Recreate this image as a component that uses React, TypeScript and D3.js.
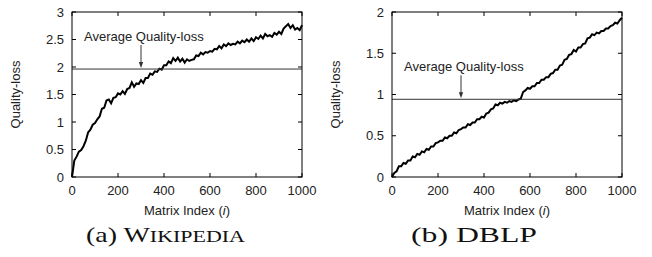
import React from "react";
import * as d3 from "d3";

const indexStep = 10;
const wikipediaLoss = [
  0, 0.30, 0.37, 0.46, 0.49, 0.56, 0.66, 0.81, 0.86, 0.95,
  0.98, 1.05, 1.10, 1.24, 1.26, 1.39, 1.41, 1.34, 1.44, 1.45,
  1.52, 1.50, 1.56, 1.51, 1.60, 1.62, 1.72, 1.64, 1.70, 1.69,
  1.76, 1.71, 1.80, 1.80, 1.88, 1.86, 1.92, 1.91, 1.97, 1.95,
  2.03, 2.03, 2.10, 2.07, 2.16, 2.11, 2.17, 2.10, 2.15, 2.08,
  2.14, 2.11, 2.13, 2.14, 2.21, 2.20, 2.26, 2.23, 2.27, 2.26,
  2.29, 2.28, 2.33, 2.32, 2.38, 2.34, 2.41, 2.38, 2.43, 2.40,
  2.42, 2.41, 2.46, 2.43, 2.48, 2.45, 2.50, 2.46, 2.52, 2.47,
  2.54, 2.51, 2.57, 2.52, 2.60, 2.56, 2.58, 2.55, 2.62, 2.59,
  2.64, 2.60, 2.70, 2.74, 2.78, 2.71, 2.76, 2.68, 2.71, 2.67,
  2.76,
];
const dblpLoss = [
  0, 0.05, 0.07, 0.13, 0.13, 0.17, 0.16, 0.20, 0.20, 0.25,
  0.24, 0.28, 0.27, 0.31, 0.30, 0.34, 0.33, 0.37, 0.37, 0.41,
  0.42, 0.44, 0.44, 0.48, 0.47, 0.50, 0.50, 0.54, 0.53, 0.57,
  0.58, 0.60, 0.60, 0.64, 0.63, 0.66, 0.66, 0.70, 0.70, 0.73,
  0.72, 0.77, 0.78, 0.82, 0.83, 0.88, 0.87, 0.90, 0.89, 0.91,
  0.90, 0.92, 0.91, 0.93, 0.92, 0.94, 0.95, 1.03, 1.05, 1.08,
  1.07, 1.10, 1.10, 1.14, 1.14, 1.18, 1.18, 1.21, 1.21, 1.25,
  1.26, 1.30, 1.30, 1.35, 1.36, 1.42, 1.43, 1.48, 1.49, 1.54,
  1.52, 1.57, 1.57, 1.61, 1.62, 1.68, 1.69, 1.73, 1.72, 1.75,
  1.74, 1.77, 1.77, 1.80, 1.80, 1.83, 1.84, 1.87, 1.86, 1.90,
  1.93,
];
const xTicks = [0, 200, 400, 600, 800, 1000];
const wikiYTicks = [0, 0.5, 1, 1.5, 2, 2.5, 3];
const dblpYTicks = [0, 0.5, 1, 1.5, 2];
const wikiAverage = 1.963;
const dblpAverage = 0.942;
const annotationIndex = 300;
const annotationText = "Average Quality-loss";
const yTitle = "Quality-loss";

type PlotProps = {
  left: number;
  data: number[];
  yMax: number;
  yTicks: number[];
  avg: number;
  caption: React.ReactNode;
  captionX: number;
  captionLen: number;
};

const SANS = "'Liberation Sans', Arial, Helvetica, sans-serif";
const SERIF = "'Liberation Serif', 'Times New Roman', serif";

function Plot({ left, data, yMax, yTicks, avg, caption, captionX, captionLen }: PlotProps) {
  const top = 12;
  const bottom = 177;
  const width = 230;
  const x = d3.scaleLinear().domain([0, 1000]).range([left, left + width]);
  const y = d3.scaleLinear().domain([0, yMax]).range([bottom, top]);
  const line = d3
    .line<number>()
    .x((_, i) => x(i * indexStep))
    .y((d) => y(d));
  const ya = y(avg);
  const xa = x(annotationIndex);
  const tl = 4;
  return (
    <g>
      <path d={line(data) || ""} fill="none" stroke="#000" strokeWidth={2} strokeLinejoin="miter" />
      <line x1={left} x2={left + width} y1={ya} y2={ya} stroke="#333" strokeWidth={1} />
      <text x={xa - 57} y={ya - 28} fontFamily={SANS} fontSize={13} fill="#222">
        {annotationText}
      </text>
      <line x1={xa} x2={xa} y1={ya - 24} y2={ya - 6} stroke="#333" strokeWidth={1} />
      <path d={`M${xa - 2.2},${ya - 7} L${xa + 2.2},${ya - 7} L${xa},${ya - 1} Z`} fill="#333" />
      <rect x={left} y={top} width={width} height={bottom - top} fill="none" stroke="#000" strokeWidth={1} />
      {xTicks.map((t) => (
        <g key={"x" + t}>
          <line x1={x(t)} x2={x(t)} y1={bottom} y2={bottom - tl} stroke="#000" strokeWidth={1} />
          <line x1={x(t)} x2={x(t)} y1={top} y2={top + tl} stroke="#000" strokeWidth={1} />
          <text x={x(t)} y={195} textAnchor="middle" fontFamily={SANS} fontSize={13} fill="#222">
            {t}
          </text>
        </g>
      ))}
      {yTicks.map((t) => (
        <g key={"y" + t}>
          <line x1={left} x2={left + tl} y1={y(t)} y2={y(t)} stroke="#000" strokeWidth={1} />
          <line x1={left + width} x2={left + width - tl} y1={y(t)} y2={y(t)} stroke="#000" strokeWidth={1} />
          <text x={left - 8} y={y(t)} dy="0.36em" textAnchor="end" fontFamily={SANS} fontSize={13} fill="#222">
            {t}
          </text>
        </g>
      ))}
      <text
        transform={`translate(${left - 52},${(top + bottom) / 2}) rotate(-90)`}
        textAnchor="middle"
        fontFamily={SANS}
        fontSize={13}
        fill="#222"
      >
        {yTitle}
      </text>
      <text x={left + width / 2} y={215} textAnchor="middle" fontFamily={SANS} fontSize={13} fill="#222">
        Matrix Index (<tspan fontStyle="italic">i</tspan>)
      </text>
      <text
        x={captionX}
        y={242}
        textAnchor="middle"
        fontFamily={SERIF}
        fontSize={21}
        fill="#111"
        textLength={captionLen}
        lengthAdjust="spacingAndGlyphs"
      >
        {caption}
      </text>
    </g>
  );
}

export default function App() {
  return (
    <svg
      width={652}
      height={257}
      viewBox="0 0 652 257"
      style={{ position: "fixed", left: 0, top: 0, background: "#fff" }}
    >
      <rect width={652} height={257} fill="#fff" />
      <Plot
        left={72}
        data={wikipediaLoss}
        yMax={3}
        yTicks={wikiYTicks}
        avg={wikiAverage}
        captionX={165.5}
        captionLen={159}
        caption={
          <>
            (a) W<tspan fontSize={16.5}>IKIPEDIA</tspan>
          </>
        }
      />
      <Plot
        left={392}
        data={dblpLoss}
        yMax={2}
        yTicks={dblpYTicks}
        avg={dblpAverage}
        captionX={474}
        captionLen={126}
        caption={<>(b) DBLP</>}
      />
    </svg>
  );
}
